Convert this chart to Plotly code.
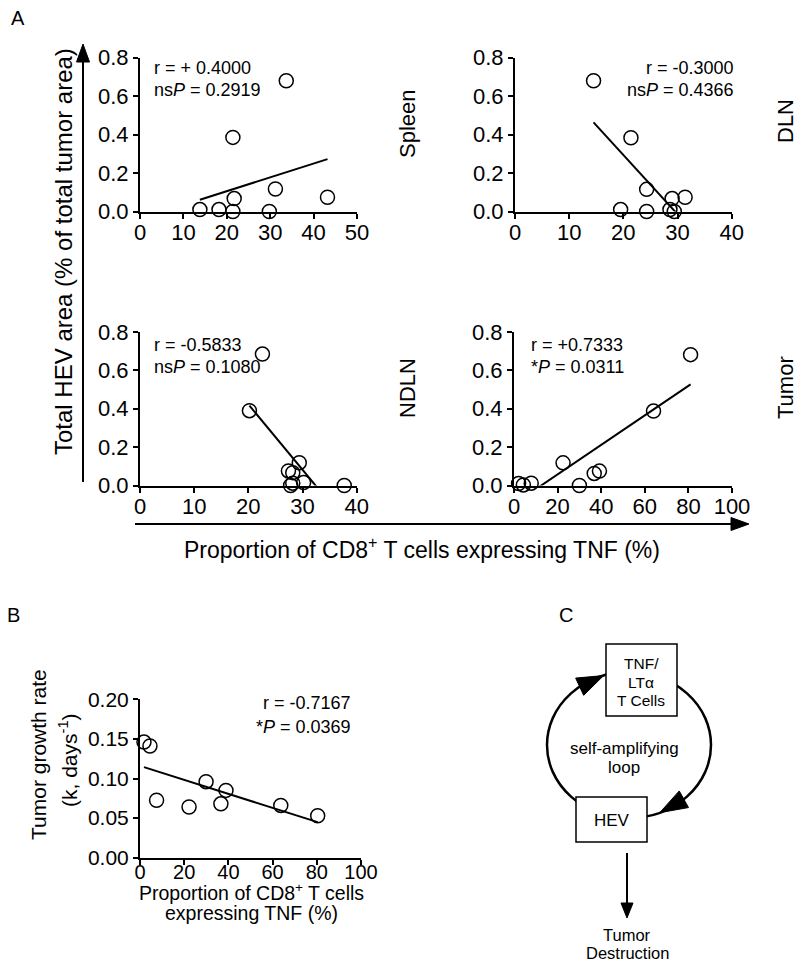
import math
import numpy as np
import plotly.graph_objects as go

W, H = 800, 964
FONT = "Liberation Sans, Arial, Helvetica, sans-serif"

# ---------------- data ----------------
spleen_tnf = [13.8, 18.2, 21.4, 21.7, 21.4, 29.8, 31.2, 33.7, 43.2]
spleen_hev = [0.010, 0.010, 0.385, 0.067, 0.000, 0.000, 0.117, 0.679, 0.074]

dln_tnf = [14.5, 21.4, 19.5, 24.3, 24.3, 29.0, 31.4, 28.6, 29.4]
dln_hev = [0.679, 0.383, 0.010, 0.115, 0.000, 0.067, 0.074, 0.010, 0.000]

ndln_tnf = [22.6, 20.2, 29.4, 27.4, 28.2, 27.8, 28.2, 30.2, 37.7]
ndln_hev = [0.685, 0.390, 0.119, 0.076, 0.067, 0.000, 0.012, 0.015, 0.000]

tumor_tnf = [2.1, 4.3, 7.9, 22.5, 30.0, 36.8, 39.2, 64.0, 81.0]
tumor_hev = [0.010, 0.003, 0.012, 0.118, 0.000, 0.063, 0.075, 0.388, 0.682]

growth_tnf = [1.8, 4.5, 7.5, 22.2, 29.9, 36.6, 38.9, 63.7, 80.4]
growth_k = [0.146, 0.141, 0.0725, 0.064, 0.096, 0.068, 0.085, 0.066, 0.053]

stats_text = {
    "Spleen": ["r = + 0.4000", "ns<i>P</i> = 0.2919"],
    "DLN": ["r = -0.3000", "ns<i>P</i> = 0.4366"],
    "NDLN": ["r = -0.5833", "ns<i>P</i> = 0.1080"],
    "Tumor": ["r = +0.7333", "*<i>P</i> = 0.0311"],
    "B": ["r = -0.7167", "*<i>P</i> = 0.0369"],
}

hev_ticks = [0.0, 0.2, 0.4, 0.6, 0.8]
k_ticks = [0.00, 0.05, 0.10, 0.15, 0.20]

# ---------------- layout geometry (pixels of an 800x964 page) ----------------
def xdom(a, b):
    return [a / W, b / W]

def ydom(top, bot):
    return [1 - bot / H, 1 - top / H]

fig = go.Figure()

def axis_style(fs, standoff=0):
    return dict(
        showline=True, linecolor="black", linewidth=2, ticks="outside",
        ticklen=5, tickwidth=2, tickcolor="black", showgrid=False,
        zeroline=False, fixedrange=True, automargin=False,
        ticklabelstandoff=standoff,
        tickfont=dict(family=FONT, size=fs, color="black"),
    )

panels = [
    ("Spleen", spleen_tnf, spleen_hev, "", 50, 10, (140, 357), (57.5, 211.5), hev_ticks, ".1f", 0.8, 22, 22, -5),
    ("DLN", dln_tnf, dln_hev, "2", 40, 10, (515, 731.7), (57.5, 211.5), hev_ticks, ".1f", 0.8, 22, 22, -5),
    ("NDLN", ndln_tnf, ndln_hev, "3", 40, 10, (140, 356.7), (332, 485.5), hev_ticks, ".1f", 0.8, 22, 22, -5),
    ("Tumor", tumor_tnf, tumor_hev, "4", 100, 20, (514, 732), (332, 485.5), hev_ticks, ".1f", 0.8, 22, 22, -5),
    ("B", growth_tnf, growth_k, "5", 100, 20, (140, 361), (699.3, 857.7), k_ticks, ".2f", 0.2, 20, 21, -10),
]

layout_axes = {}
for name, xs, ys, sfx, xmax, dt, xd, yd, yt, yf, ymax, xfs, yfs, xso in panels:
    xa = "x" + sfx
    ya = "y" + sfx
    fig.add_trace(go.Scatter(
        x=xs, y=ys, mode="markers", xaxis=xa, yaxis=ya,
        marker=dict(symbol="circle-open", size=14, color="black",
                    line=dict(width=1.5, color="black")),
        cliponaxis=False, showlegend=False, hoverinfo="skip"))
    slope, icpt = np.polyfit(xs, ys, 1)
    fx = [min(xs), max(xs)]
    fy = [slope * v + icpt for v in fx]
    fig.add_trace(go.Scatter(
        x=fx, y=fy, mode="lines", xaxis=xa, yaxis=ya,
        line=dict(color="black", width=2), showlegend=False, hoverinfo="skip"))
    layout_axes["xaxis" + sfx] = dict(
        axis_style(xfs, xso), domain=xdom(*xd), range=[0, xmax], dtick=dt,
        tick0=0, anchor=ya)
    layout_axes["yaxis" + sfx] = dict(
        axis_style(yfs), domain=ydom(*yd), range=[0, ymax], tickvals=yt,
        tickformat=yf, anchor=xa)

# pixel overlay axis for annotations / diagram
fig.add_trace(go.Scatter(x=[0], y=[0], xaxis="x6", yaxis="y6", mode="markers",
                         marker=dict(opacity=0), showlegend=False, hoverinfo="skip"))
layout_axes["xaxis6"] = dict(domain=[0, 1], range=[0, W], visible=False,
                             fixedrange=True, anchor="y6", automargin=False)
layout_axes["yaxis6"] = dict(domain=[0, 1], range=[H, 0], visible=False,
                             fixedrange=True, anchor="x6", automargin=False)

annotations = []

def txt(x, y, text, size=18, xanchor="center", angle=0):
    annotations.append(dict(
        x=x, y=y, xref="x6", yref="y6", text=text, showarrow=False,
        xanchor=xanchor, yanchor="middle", textangle=angle,
        font=dict(family=FONT, size=size, color="black")))

# stats
txt(152, 68, stats_text["Spleen"][0], xanchor="left")
txt(152, 90, stats_text["Spleen"][1], xanchor="left")
txt(736, 68, stats_text["DLN"][0], xanchor="right")
txt(736, 90, stats_text["DLN"][1], xanchor="right")
txt(152, 345, stats_text["NDLN"][0], xanchor="left")
txt(152, 367, stats_text["NDLN"][1], xanchor="left")
txt(529, 345, stats_text["Tumor"][0], xanchor="left")
txt(529, 367, stats_text["Tumor"][1], xanchor="left")
txt(353, 703, stats_text["B"][0], xanchor="right")
txt(353, 727, stats_text["B"][1], xanchor="right")

# tissue labels
txt(407, 124, "Spleen", size=22, angle=-90)
txt(785, 121, "DLN", size=22, angle=-90)
txt(407, 388, "NDLN", size=22, angle=-90)
txt(785, 388, "Tumor", size=22, angle=-90)

# panel letters
txt(18, 18, "A", size=20)
txt(13, 615, "B", size=20)
txt(566, 615, "C", size=20)

# axis titles
txt(63, 252, "Total HEV area (% of total tumor area)", size=24, angle=-90)
txt(422, 548, "Proportion of CD8<sup>+</sup> T cells expressing TNF (%)", size=23)
txt(38, 755, "Tumor growth rate", size=21, angle=-90)
txt(68, 760, "(k, days<sup>-1</sup>)", size=21, angle=-90)
txt(251, 892, "Proportion of CD8<sup>+</sup> T cells", size=19.5)
txt(251, 913, "expressing TNF (%)", size=19.5)

# diagram text
txt(641, 663, "TNF/", size=15.5)
txt(641, 682, "LTα", size=15.5)
txt(641, 700, "T Cells", size=15.5)
txt(612, 820, "HEV", size=17)
txt(624, 748, "self-amplifying", size=17)
txt(624, 767, "loop", size=17)
txt(627, 935, "Tumor", size=16.5)
txt(627, 953, "Destruction", size=16.5)

shapes = []

def line(x0, y0, x1, y1, w=2, color="black"):
    shapes.append(dict(type="line", xref="x6", yref="y6", x0=x0, y0=y0,
                       x1=x1, y1=y1, line=dict(color=color, width=w)))

def tri(tip, base, hw):
    dx, dy = tip[0] - base[0], tip[1] - base[1]
    L = math.hypot(dx, dy)
    nx, ny = -dy / L, dx / L
    p = "M {:.2f},{:.2f} L {:.2f},{:.2f} L {:.2f},{:.2f} Z".format(
        tip[0], tip[1], base[0] + nx * hw, base[1] + ny * hw,
        base[0] - nx * hw, base[1] - ny * hw)
    shapes.append(dict(type="path", xref="x6", yref="y6", path=p,
                       fillcolor="black", line=dict(color="black", width=1)))

# big axis arrows of panel A
line(83, 482, 83, 60)
tri((83, 44), (83, 62), 6.5)
line(135, 524, 732, 524)
tri((749, 524), (731, 524), 6.5)

# diagram C
cx, cy, rx, ry = 629, 745, 82, 73
shapes.append(dict(type="circle", xref="x6", yref="y6", x0=cx - rx, x1=cx + rx,
                   y0=cy - ry, y1=cy + ry, line=dict(color="black", width=2.5)))
shapes.append(dict(type="rect", xref="x6", yref="y6", x0=606, x1=677, y0=644,
                   y1=716, fillcolor="white", line=dict(color="black", width=1.5)))
shapes.append(dict(type="rect", xref="x6", yref="y6", x0=576, x1=647, y0=797,
                   y1=842, fillcolor="white", line=dict(color="black", width=1.5)))

def ell(t_deg):
    t = math.radians(t_deg)
    return (cx + rx * math.cos(t), cy + ry * math.sin(t))

tri(ell(-108), ell(-127), 9.5)
tri(ell(68), ell(48), 9.5)

line(627, 853, 627, 905, w=2)
tri((627, 918), (627, 903), 6)

fig.update_layout(
    width=W, height=H, margin=dict(l=0, r=0, t=0, b=0, autoexpand=False),
    paper_bgcolor="white", plot_bgcolor="rgba(0,0,0,0)",
    showlegend=False, annotations=annotations, shapes=shapes,
    font=dict(family=FONT, color="black"),
    **layout_axes,
)

fig.write_html(
    "out.html",
    config={"displayModeBar": False},
    post_script="document.body.style.margin='0';document.body.style.padding='0';",
)
